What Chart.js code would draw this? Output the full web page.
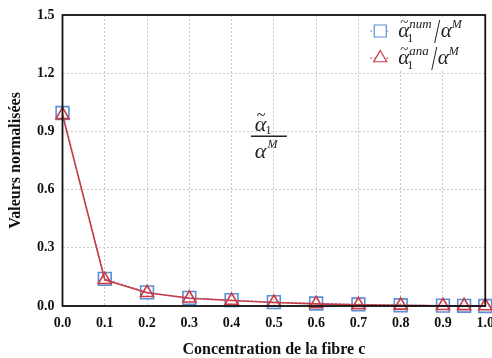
<!DOCTYPE html>
<html>
<head>
<meta charset="utf-8">
<script src="https://cdn.jsdelivr.net/npm/chart.js@4/dist/chart.umd.min.js"></script>
<style>
  html, body { margin: 0; padding: 0; background: #fff; overflow: hidden; }
  #wrap { width: 504px; height: 358px; }
</style>
</head>
<body>
<div id="wrap"><canvas id="chart"></canvas></div>
<script>
const conc = [0, 0.1, 0.2, 0.3, 0.4, 0.5, 0.6, 0.7, 0.8, 0.9, 0.95, 1.0];
const numVals = [0.995, 0.14, 0.07, 0.042, 0.03, 0.02, 0.013, 0.008, 0.004, 0.002, 0.001, 0.0];
const anaVals = [0.985, 0.135, 0.068, 0.04, 0.028, 0.018, 0.011, 0.006, 0.003, 0.001, 0.0005, 0.0];
const xTitle = 'Concentration de la fibre c';
const yTitle = 'Valeurs normalisées';

const BLUE = '#5b8ed6';
const RED = '#cc3a45';
const SERIF = '"Liberation Serif", "DejaVu Serif", serif';

const toPts = vals => conc.map((c, i) => ({ x: c, y: vals[i] }));

// alpha-tilde_1^sup / alpha^M
function drawRatio(ctx, x, y, sup) {
  ctx.save();
  ctx.fillStyle = '#222';
  ctx.textBaseline = 'alphabetic';
  ctx.textAlign = 'left';
  ctx.font = `italic 21px ${SERIF}`;
  ctx.fillText('α', x, y);
  const aw = ctx.measureText('α').width;
  ctx.font = `15px ${SERIF}`;
  ctx.fillText('~', x + 2, y - 10);
  ctx.font = `12px ${SERIF}`;
  ctx.fillText('1', x + aw - 2, y + 5);
  ctx.font = `italic 13px ${SERIF}`;
  ctx.fillText(sup, x + aw, y - 9);
  let cx = x + aw + ctx.measureText(sup).width + 3;
  ctx.strokeStyle = '#222';
  ctx.lineWidth = 1;
  ctx.beginPath();
  ctx.moveTo(cx + 5, y - 17);
  ctx.lineTo(cx, y + 6);
  ctx.stroke();
  cx += 6;
  ctx.font = `italic 21px ${SERIF}`;
  ctx.fillText('α', cx, y);
  const bw = ctx.measureText('α').width;
  ctx.font = `italic 12px ${SERIF}`;
  ctx.fillText('M', cx + bw, y - 9);
  ctx.restore();
}

const decor = {
  id: 'decor',
  afterDatasetsDraw(chart) {
    const { ctx, chartArea: a } = chart;
    ctx.save();
    // frame
    ctx.strokeStyle = '#111';
    ctx.lineWidth = 1.8;
    ctx.strokeRect(a.left, a.top, a.right - a.left, a.bottom - a.top);

    // legend
    const lx = a.right - 120, ly = a.top + 2;
    ctx.fillStyle = '#fff';
    ctx.fillRect(lx, ly, 118, 54);
    const items = [
      { color: BLUE, style: 'rect', r: 8.5, sup: 'num', y: ly + 14 },
      { color: RED, style: 'triangle', r: 7.5, sup: 'ana', y: ly + 41 }
    ];
    items.forEach(it => {
      ctx.strokeStyle = it.color;
      ctx.lineWidth = 1.2;
      ctx.setLineDash([2, 2]);
      ctx.beginPath();
      ctx.moveTo(lx + 5, it.y);
      ctx.lineTo(lx + 25, it.y);
      ctx.stroke();
      ctx.setLineDash([]);
      Chart.helpers.drawPoint(ctx, {
        pointStyle: it.style, radius: it.r, borderWidth: 1.5
      }, lx + 15, it.y);
      drawRatio(ctx, lx + 33, it.y + 6, it.sup);
    });

    // fraction annotation in the plot
    const fx = chart.scales.x.getPixelForValue(0.455);
    const fy = chart.scales.y.getPixelForValue(0.875);
    ctx.fillStyle = '#222';
    ctx.textAlign = 'left';
    ctx.textBaseline = 'alphabetic';
    ctx.font = `italic 22px ${SERIF}`;
    ctx.fillText('α', fx, fy - 5);
    const w = ctx.measureText('α').width;
    ctx.font = `16px ${SERIF}`;
    ctx.fillText('~', fx + 2, fy - 16);
    ctx.font = `12px ${SERIF}`;
    ctx.fillText('1', fx + w - 1, fy - 2);
    ctx.strokeStyle = '#222';
    ctx.lineWidth = 1.3;
    ctx.beginPath();
    ctx.moveTo(fx - 4, fy);
    ctx.lineTo(fx + 32, fy);
    ctx.stroke();
    ctx.font = `italic 22px ${SERIF}`;
    ctx.fillText('α', fx, fy + 22);
    ctx.font = `italic 12px ${SERIF}`;
    ctx.fillText('M', fx + w + 1, fy + 12);
    ctx.restore();
  }
};

const tickFont = { family: SERIF, size: 14, weight: 'bold', lineHeight: 1 };
const titleFont = { family: SERIF, size: 16, weight: 'bold', lineHeight: 1 };

new Chart(document.getElementById('chart'), {
  type: 'line',
  data: {
    datasets: [
      {
        label: 'num',
        data: toPts(numVals),
        order: 1,
        borderColor: BLUE,
        borderWidth: 1.2,
        borderDash: [2, 2],
        pointStyle: 'rect',
        pointRadius: 9,
        pointBorderWidth: 1.6,
        pointBorderColor: BLUE,
        pointBackgroundColor: 'rgba(255,255,255,0)',
        clip: false
      },
      {
        label: 'ana',
        data: toPts(anaVals),
        order: 0,
        borderColor: RED,
        borderWidth: 1.6,
        pointStyle: 'triangle',
        pointRadius: 7.5,
        pointBorderWidth: 1.6,
        pointBorderColor: RED,
        pointBackgroundColor: 'rgba(255,255,255,0)',
        clip: false
      }
    ]
  },
  options: {
    responsive: true,
    maintainAspectRatio: false,
    animation: false,
    layout: { autoPadding: false, padding: { top: 2, left: 8, right: 7, bottom: 0 } },
    plugins: { legend: { display: false }, tooltip: { enabled: false } },
    scales: {
      x: {
        type: 'linear',
        min: 0,
        max: 1,
        ticks: { stepSize: 0.1, color: '#111', font: tickFont, padding: 10, callback: v => v.toFixed(1) },
        grid: { color: '#c8c8c8', lineWidth: 1, drawTicks: false },
        border: { display: false, dash: [2, 2] },
        title: { display: true, text: xTitle, color: '#111', font: titleFont, padding: { top: 2, bottom: 0 } }
      },
      y: {
        min: 0,
        max: 1.5,
        ticks: { stepSize: 0.3, color: '#111', font: tickFont, padding: 8, callback: v => v.toFixed(1) },
        grid: { color: '#c8c8c8', lineWidth: 1, drawTicks: false },
        border: { display: false, dash: [2, 2] },
        title: { display: true, text: yTitle, color: '#111', font: titleFont, padding: { top: 0, bottom: 5 } }
      }
    }
  },
  plugins: [decor]
});
</script>
</body>
</html>
